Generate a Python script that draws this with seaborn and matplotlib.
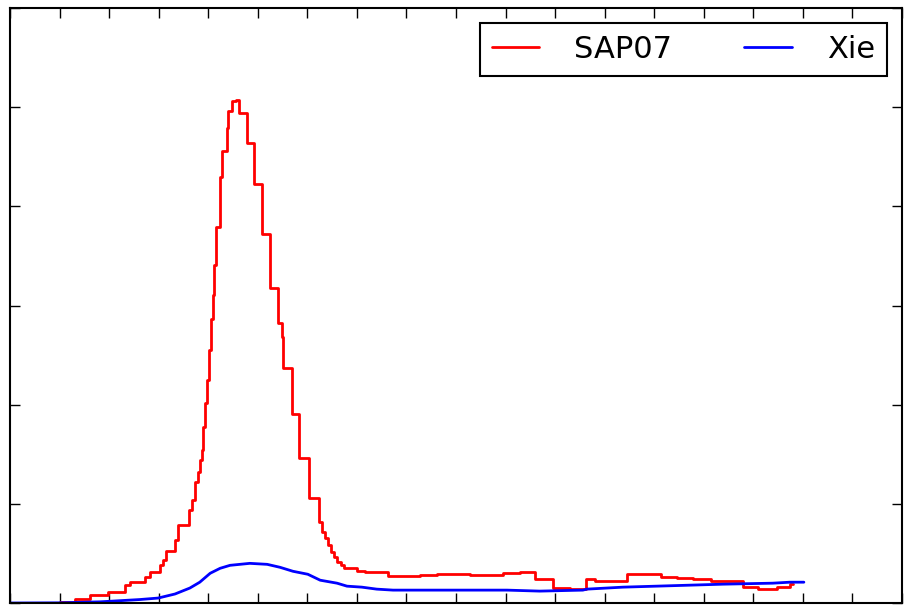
import matplotlib
matplotlib.use('Agg')
import matplotlib.pyplot as plt
import pandas as pd
import seaborn as sns

# SAP07 step curve (bin edges and value after each edge)
sap_x = [0, 1.01, 1.31, 1.61, 1.98, 2.32, 2.42, 2.72, 2.82, 3.03, 3.09, 3.15, 3.33,
         3.39, 3.61, 3.67, 3.73, 3.79, 3.83, 3.87, 3.89, 3.93, 3.97, 4.02, 4.06,
         4.10, 4.12, 4.16, 4.24, 4.28, 4.38, 4.40, 4.48, 4.56, 4.62, 4.78, 4.92,
         5.08, 5.25, 5.41, 5.49, 5.51, 5.69, 5.83, 6.03, 6.23, 6.30, 6.36, 6.42,
         6.48, 6.54, 6.60, 6.68, 6.74, 7.00, 7.16, 7.63, 8.27, 8.62, 9.28, 9.95,
         10.29, 10.59, 10.96, 11.30, 11.62, 11.80, 12.45, 13.14, 13.46, 13.78,
         14.14, 14.79, 15.09, 15.48, 15.74, 15.80]
sap_y = [0, 0.010, 0.040, 0.081, 0.111, 0.18, 0.21, 0.26, 0.31, 0.38, 0.43, 0.52, 0.64,
         0.79, 0.94, 1.04, 1.22, 1.32, 1.44, 1.54, 1.77, 2.02, 2.25, 2.55, 2.86,
         3.11, 3.41, 3.79, 4.30, 4.56, 4.79, 4.96, 5.06, 5.07, 4.94, 4.64, 4.23,
         3.72, 3.18, 2.82, 2.68, 2.37, 1.91, 1.46, 1.06, 0.82, 0.72, 0.66, 0.58,
         0.51, 0.46, 0.41, 0.38, 0.35, 0.32, 0.31, 0.27, 0.28, 0.29, 0.28, 0.30,
         0.31, 0.24, 0.15, 0.14, 0.24, 0.22, 0.29, 0.26, 0.25, 0.24,
         0.22, 0.16, 0.14, 0.16, 0.19, 0.19]

# Xie curve
xie_x = [0, 1.01, 1.82, 2.62, 2.99, 3.33, 3.63, 3.83, 4.04, 4.24, 4.44, 4.84, 5.19,
         5.45, 5.71, 6.01, 6.26, 6.60, 6.80, 7.10, 7.40, 7.73, 10.03, 10.69, 11.56,
         11.64, 12.37, 13.72, 14.39, 15.39, 15.74, 16.02]
xie_y = [0, 0.002, 0.012, 0.035, 0.050, 0.091, 0.151, 0.21, 0.30, 0.35, 0.38, 0.40, 0.39,
         0.36, 0.32, 0.29, 0.23, 0.20, 0.17, 0.16, 0.14, 0.13, 0.13, 0.12, 0.13,
         0.14, 0.16, 0.18, 0.19, 0.20, 0.21, 0.21]

sap = pd.DataFrame({'x': sap_x, 'y': sap_y})
xie = pd.DataFrame({'x': xie_x, 'y': xie_y})

sns.set_style('white')
plt.rcParams['font.family'] = ['DejaVu Sans']
plt.rcParams['text.color'] = 'black'

fig = plt.figure(figsize=(9.07, 6.08), dpi=100)
ax = fig.add_axes([0.011, 0.0082, 0.9835, 0.9786])

sns.lineplot(data=sap, x='x', y='y', ax=ax, color='#ff0000', lw=2,
             drawstyle='steps-post', estimator=None, sort=False, label='SAP07')
sns.lineplot(data=xie, x='x', y='y', ax=ax, color='#0000ff', lw=2,
             estimator=None, sort=False, label='Xie')

ax.set_xlim(0, 18)
ax.set_ylim(0, 6)
ax.set_xticks(range(0, 19))
ax.set_yticks(range(0, 7))
ax.set_xticklabels([])
ax.set_yticklabels([])
ax.set_xlabel('')
ax.set_ylabel('')
ax.tick_params(direction='in', length=7, width=1, top=True, right=True,
               bottom=True, left=True, color='black')
for s in ax.spines.values():
    s.set_visible(True)
    s.set_color('black')
    s.set_linewidth(1.5)

leg = ax.legend(loc='upper right', ncol=2, fontsize=22, frameon=True, fancybox=False,
                handlelength=1.55, handletextpad=1.15, columnspacing=2.37,
                borderpad=0.38, borderaxespad=0.5)
leg.get_frame().set_edgecolor('black')
leg.get_frame().set_linewidth(1.5)
leg.get_frame().set_alpha(1)
for t in leg.get_texts():
    t.set_color('black')

fig.savefig('out.png', dpi=100)
